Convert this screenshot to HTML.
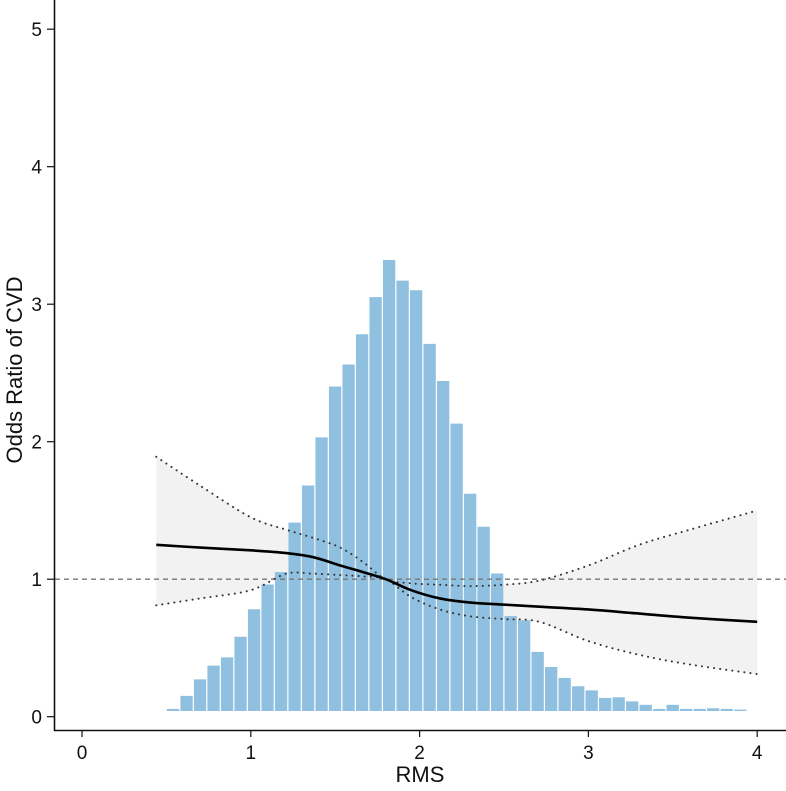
<!DOCTYPE html>
<html><head><meta charset="utf-8"><style>
html,body{margin:0;padding:0;background:#fff;}
svg{display:block;font-family:"Liberation Sans",Arial,sans-serif;}
</style></head><body>
<svg id="chart" width="786" height="791" viewBox="0 0 786 791" xmlns="http://www.w3.org/2000/svg">
<g id="band"></g>
<g id="bars"></g>
<g id="lines"></g>
<g id="axes"></g>
<text x="0" y="0" transform="translate(22,370) rotate(-90)" text-anchor="middle" font-size="22" fill="#111">Odds Ratio of CVD</text>
<text x="420" y="782" text-anchor="middle" font-size="22" fill="#111">RMS</text>
</svg>
<script>
const binStarts=[0.50,0.58,0.66,0.74,0.82,0.90,0.98,1.06,1.14,1.22,1.30,1.38,1.46,1.54,1.62,1.70,1.78,1.86,1.94,2.02,2.10,2.18,2.26,2.34,2.42,2.50,2.58,2.66,2.74,2.82,2.90,2.98,3.06,3.14,3.22,3.30,3.38,3.46,3.54,3.62,3.70,3.78,3.86];
const binHeights=[0.015,0.11,0.23,0.33,0.39,0.54,0.74,0.92,1.01,1.37,1.64,1.99,2.36,2.52,2.74,3.01,3.28,3.13,3.06,2.67,2.40,2.09,1.58,1.34,1.00,0.69,0.66,0.43,0.32,0.24,0.18,0.15,0.095,0.10,0.07,0.045,0.015,0.045,0.015,0.015,0.02,0.015,0.01];
const binWidth=0.08;
const curveX=[0.44,0.7,1.0,1.21,1.37,1.53,1.67,1.8,1.95,2.12,2.3,2.5,2.71,3.0,3.3,3.6,4.0];
const orVals=[1.25,1.23,1.21,1.19,1.16,1.10,1.05,1.00,0.92,0.86,0.83,0.815,0.80,0.78,0.75,0.72,0.69];
const upperVals=[1.89,1.68,1.45,1.36,1.30,1.23,1.12,1.00,0.97,0.96,0.95,0.96,0.99,1.10,1.25,1.36,1.50];
const lowerVals=[0.81,0.86,0.92,1.04,1.04,1.03,1.02,1.00,0.87,0.78,0.73,0.71,0.69,0.55,0.45,0.38,0.31];
const xTicks=[0,1,2,3,4];
const yTicks=[0,1,2,3,4,5];
const refLine=1;

const NS="http://www.w3.org/2000/svg";
const X=v=>82+v*168.8;
const Y=v=>716.7-v*137.5;
const HB=v=>711-v*137.5;
function mk(tag,attrs,parent){const e=document.createElementNS(NS,tag);for(const k in attrs)e.setAttribute(k,attrs[k]);parent.appendChild(e);return e;}
const band=document.getElementById('band'),bars=document.getElementById('bars'),lines=document.getElementById('lines'),axes=document.getElementById('axes');

let d='';
curveX.forEach((x,i)=>{d+=(i?'L':'M')+X(x)+','+Y(upperVals[i]);});
for(let i=curveX.length-1;i>=0;i--)d+='L'+X(curveX[i])+','+Y(lowerVals[i]);
const bp=mk('path',{d:d+'Z',fill:'#f2f2f2'},band);



binStarts.forEach((s,i)=>{
  const r=mk('rect',{x:X(s)+0.5,y:HB(binHeights[i]),width:X(s+binWidth)-X(s)-1.2,height:binHeights[i]*137.5,fill:'#8fc0e0'},bars);
  
  
});

function smooth(vals){
  let p='';
  for(let i=0;i<curveX.length;i++){
    const x=X(curveX[i]),y=Y(vals[i]);
    if(i===0){p+='M'+x+','+y;continue;}
    const x0=X(curveX[i-1]),y0=Y(vals[i-1]);
    const xm1=X(curveX[Math.max(i-2,0)]),ym1=Y(vals[Math.max(i-2,0)]);
    const x2=X(curveX[Math.min(i+1,curveX.length-1)]),y2=Y(vals[Math.min(i+1,curveX.length-1)]);
    const c1x=x0+(x-xm1)/6,c1y=y0+(y-ym1)/6,c2x=x-(x2-x0)/6,c2y=y-(y2-y0)/6;
    p+='C'+c1x+','+c1y+' '+c2x+','+c2y+' '+x+','+y;
  }
  return p;
}
const dl=mk('line',{x1:55,x2:786,y1:Y(refLine),y2:Y(refLine),stroke:'#777','stroke-width':1.3,'stroke-dasharray':'5,4'},lines);


const up=mk('path',{d:smooth(upperVals),fill:'none',stroke:'#333','stroke-width':2,'stroke-dasharray':'0.1,6','stroke-linecap':'round'},lines);


const lo=mk('path',{d:smooth(lowerVals),fill:'none',stroke:'#333','stroke-width':2,'stroke-dasharray':'0.1,6','stroke-linecap':'round'},lines);


const orl=mk('path',{d:smooth(orVals),fill:'none',stroke:'#000','stroke-width':2.6},lines);



const ya=mk('line',{x1:54.5,x2:54.5,y1:0,y2:731,stroke:'#111','stroke-width':1.6},axes);


const xa=mk('line',{x1:54,x2:786,y1:730.5,y2:730.5,stroke:'#111','stroke-width':1.6},axes);


yTicks.forEach(t=>{
  const l=mk('line',{x1:47,x2:54,y1:Y(t),y2:Y(t),stroke:'#111','stroke-width':1.2},axes);
  
  
  const tx=mk('text',{x:42,y:Y(t)+7,'text-anchor':'end','font-size':19,fill:'#111'},axes);
  tx.textContent=t;
  
  
});
xTicks.forEach(t=>{
  const l=mk('line',{x1:X(t),x2:X(t),y1:731,y2:737,stroke:'#111','stroke-width':1.2},axes);
  
  
  const tx=mk('text',{x:X(t),y:759,'text-anchor':'middle','font-size':19,fill:'#111'},axes);
  tx.textContent=t;
  
  
});
</script>
</body></html>
